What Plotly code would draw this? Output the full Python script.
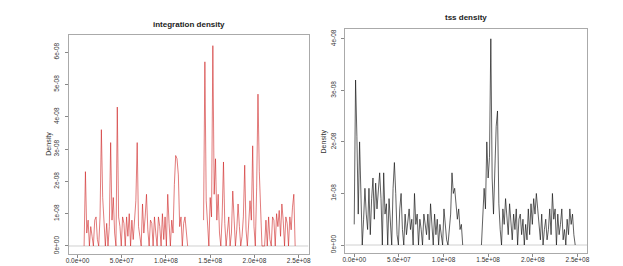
import plotly.graph_objects as go

# ---------------- data (density values in units of 1e-9) ----------------
integration_bin_start = 7.5e6
integration_bin_step = 1.5e6
integration_density_e9 = [
    0, 23, 4, 8, 0, 6, 3, 0, 8, 9, 2, 0, 9, 36, 15, 5, 0, 7, 0, 6,
    32, 8, 15, 4, 0, 43, 9, 6, 0, 9, 7, 0, 9, 3, 10, 0, 8, 2, 8, 14,
    32, 6, 3, 0, 13, 4, 9, 16, 5, 0, 8, 7, 0, 9, 4, 0, 9, 6, 0, 10,
    2, 9, 0, 16, 7, 0, 8, 4, 19, 28, 27, 22, 6, 9, 0, 7, 9, 3, 0,
    None, None, None, None, None, None, None, None, None, None, None,
    8, 57, 14, 5, 0, 15, 9, 62, 16, 27, 8, 16, 4, 0, 9, 26, 7, 0, 6, 9,
    0, 4, 17, 8, 0, 5, 13, 6, 0, 3, 9, 25, 5, 0, 7, 14, 8, 31, 6, 0,
    18, 47, 23, 9, 0, 0, 0, 8, 0, 9, 2, 0, 9, 8, 0, 10, 6, 11, 3, 13,
    8, 0, 9, 7, 0, 9, 5, 12, 16, 0,
]

tss_bin_start = 0.0
tss_bin_step = 1.5e6
tss_density_e9 = [
    4, 32, 21, 6, 20, 8, 0, 5, 11, 6, 3, 11, 2, 9, 13, 5, 12, 7, 10, 14,
    9, 0, 14, 6, 8, 0, 9, 4, 0, 11, 16, 10, 2, 0, 7, 10, 3, 0, 6, 2,
    5, 7, 3, 5, 0, 10, 4, 6, 0, 5, 3, 0, 6, 4, 2, 6, 1, 8, 3, 0,
    6, 2, 5, 0, 4, 2, 0, 7, 3, 1, 0, 3, 6, 14, 10, 11, 8, 5, 7, 3,
    4, 0,
    None, None, None, None, None, None, None, None, None, None, None, None, None,
    0, 5, 11, 7, 20, 13, 17, 40, 13, 6, 14, 23, 26, 8, 3, 0, 7, 4, 9, 6,
    2, 8, 5, 1, 6, 3, 7, 0, 5, 6, 2, 5, 0, 4, 1, 7, 2, 8, 4, 9,
    6, 10, 7, 4, 1, 6, 0, 3, 5, 1, 3, 7, 2, 10, 5, 7, 0, 6, 2, 4,
    7, 1, 3, 0, 5, 2, 7, 4, 6, 2, 0,
]

x_tick_vals = [0, 5e7, 1e8, 1.5e8, 2e8, 2.5e8]
x_tick_text = ["0.0e+00", "5.0e+07", "1.0e+08", "1.5e+08", "2.0e+08", "2.5e+08"]
left_y_tick_vals = [0, 1e-8, 2e-8, 3e-8, 4e-8, 5e-8, 6e-8]
left_y_tick_text = ["0e+00", "1e-08", "2e-08", "3e-08", "4e-08", "5e-08", "6e-08"]
right_y_tick_vals = [0, 1e-8, 2e-8, 3e-8, 4e-8]
right_y_tick_text = ["0e+00", "1e-08", "2e-08", "3e-08", "4e-08"]

# ---------------- build ----------------
def scale(vals):
    return [None if v is None else v * 1e-9 for v in vals]

int_x = [integration_bin_start + i * integration_bin_step for i in range(len(integration_density_e9))]
tss_x = [tss_bin_start + i * tss_bin_step for i in range(len(tss_density_e9))]

FONT = "Liberation Sans, Arial, sans-serif"
fig = go.Figure()

# baselines at zero (light gray)
fig.add_trace(go.Scatter(x=[-1.0e7, 2.61e8], y=[0, 0], mode="lines",
                         line=dict(color="#d0d0d0", width=1), xaxis="x", yaxis="y",
                         showlegend=False, hoverinfo="skip"))
fig.add_trace(go.Scatter(x=[-1.0e7, 2.61e8], y=[0, 0], mode="lines",
                         line=dict(color="#d0d0d0", width=1), xaxis="x2", yaxis="y2",
                         showlegend=False, hoverinfo="skip"))

fig.add_trace(go.Scatter(x=int_x, y=scale(integration_density_e9), mode="lines",
                         line=dict(color="rgba(205,30,30,0.65)", width=0.9),
                         connectgaps=False, xaxis="x", yaxis="y", showlegend=False))
fig.add_trace(go.Scatter(x=tss_x, y=scale(tss_density_e9), mode="lines",
                         line=dict(color="rgba(20,20,20,0.75)", width=0.9),
                         connectgaps=False, xaxis="x2", yaxis="y2", showlegend=False))

axis_common = dict(showgrid=False, zeroline=False, showline=True, linecolor="#aaaaaa",
                   linewidth=1, mirror=True, ticks="outside", ticklen=3, tickcolor="#888888",
                   tickfont=dict(family=FONT, size=6.5, color="#333333"))

fig.update_layout(
    width=623, height=266,
    margin=dict(l=0, r=0, t=0, b=0),
    paper_bgcolor="white", plot_bgcolor="white",
    xaxis=dict(domain=[58 / 623, 300 / 623], range=[-1.01e7, 2.612e8],
               tickvals=x_tick_vals, ticktext=x_tick_text, anchor="y",
               ticklabelstandoff=-3, **axis_common),
    yaxis=dict(domain=[20 / 266, 239 / 266], range=[-0.248e-8, 6.53e-8],
               tickvals=left_y_tick_vals, ticktext=left_y_tick_text, tickangle=-90,
               anchor="x", ticklabelstandoff=3, **axis_common),
    xaxis2=dict(domain=[337 / 623, 581 / 623], range=[-1.0e7, 2.611e8],
                tickvals=x_tick_vals, ticktext=x_tick_text, anchor="y2",
                ticklabelstandoff=-3, **axis_common),
    yaxis2=dict(domain=[21 / 266, 245 / 266], range=[-0.155e-8, 4.19e-8],
                tickvals=right_y_tick_vals, ticktext=right_y_tick_text, tickangle=-90,
                anchor="x2", ticklabelstandoff=3, **axis_common),
    annotations=[
        dict(text="<b>integration density</b>", x=179 / 623, y=1 - 16 / 266, xref="paper",
             yref="paper", showarrow=False, xanchor="center", yanchor="middle",
             font=dict(family=FONT, size=8, color="#222222")),
        dict(text="<b>tss density</b>", x=459 / 623, y=1 - 9 / 266, xref="paper",
             yref="paper", showarrow=False, xanchor="center", yanchor="middle",
             font=dict(family=FONT, size=8, color="#222222")),
        dict(text="Density", x=38 / 623, y=1 - 136 / 266, xref="paper", yref="paper",
             showarrow=False, textangle=-90, xanchor="center", yanchor="middle",
             font=dict(family=FONT, size=7, color="#333333")),
        dict(text="Density", x=316 / 623, y=1 - 133 / 266, xref="paper", yref="paper",
             showarrow=False, textangle=-90, xanchor="center", yanchor="middle",
             font=dict(family=FONT, size=7, color="#333333")),
    ],
)

fig.write_html("out.html")
